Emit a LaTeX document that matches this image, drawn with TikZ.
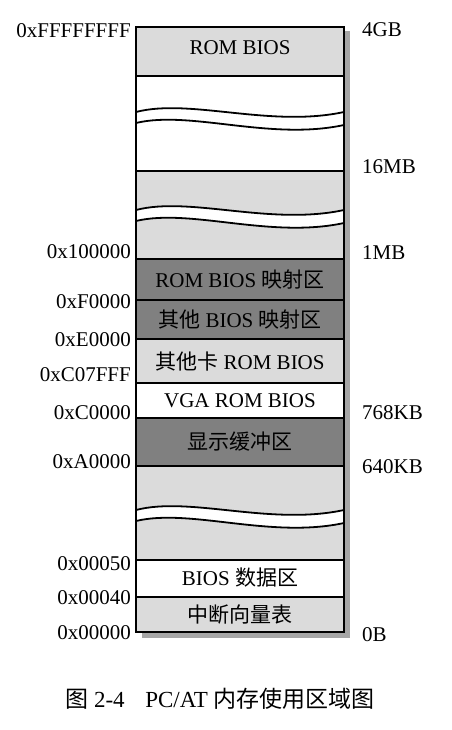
\documentclass[tikz,border=0pt]{standalone}
\usepackage{fontspec}
\setmainfont{Liberation Serif}
\newfontfamily\cjk{Noto Sans CJK SC}
\usetikzlibrary{calc}
\definecolor{memlight}{gray}{0.86}
\definecolor{memdark}{gray}{0.50}
\def\wavegap(#1){%
	\fill[white] (136,#1) .. controls (190,#1-14) and (270,#1+16) .. (344,#1) -- (344,#1+13) .. controls (270,#1+29) and (190,#1-2) .. (136,#1+11) -- cycle;
	\draw[line width=1.8pt] (136,#1) .. controls (190,#1-14) and (270,#1+16) .. (344,#1);
	\draw[line width=1.8pt] (136,#1+11) .. controls (190,#1-2) and (270,#1+29) .. (344,#1+13);}
\tikzset{
	addr/.style={anchor=east, inner sep=0pt, font=\fontsize{21}{24}\selectfont},
	msize/.style={anchor=west, inner sep=0pt, font=\fontsize{21}{24}\selectfont},
	region/.style={inner sep=0pt, font=\fontsize{21}{24}\selectfont},
}

\begin{document}
\begin{tikzpicture}[x=1pt, y=-1pt]
		%%%%% START %%%%%
		\useasboundingbox (0, 0) rectangle (451, 730);
		
		\fill[black!35] (142, 31) rectangle (350, 638);
		
		\fill[memlight] (136, 27) rectangle (344, 76);
		\fill[white] (136, 76) rectangle (344, 171);
		\fill[memlight] (136, 171) rectangle (344, 259);
		\fill[memdark] (136, 259) rectangle (344, 339);
		\fill[memlight] (136, 339) rectangle (344, 383);
		\fill[white] (136, 383) rectangle (344, 418);
		\fill[memdark] (136, 418) rectangle (344, 466);
		\fill[memlight] (136, 466) rectangle (344, 560);
		\fill[white] (136, 560) rectangle (344, 597);
		\fill[memlight] (136, 597) rectangle (344, 632);
		
		\wavegap(112)
		\wavegap(210)
		\wavegap(510)
		
		\foreach \y in {76, 171, 259, 300, 339, 383, 418, 466, 560, 597}
			\draw[line width=1.8pt] (136, \y) -- (344, \y);
		\draw[line width=2pt] (136, 27) rectangle (344, 632);
		
		\node[region] (rombios) at (240, 48) {ROM BIOS};
		\node[region] (rommap) at (240, 280) {ROM BIOS {\cjk 映射区}};
		\node[region] (othermap) at (240, 320) {{\cjk 其他} BIOS {\cjk 映射区}};
		\node[region] (cardrom) at (240, 362) {{\cjk 其他卡} ROM BIOS};
		\node[region] (vgarom) at (240, 401) {VGA ROM BIOS};
		\node[region] (vbuf) at (240, 442) {\cjk 显示缓冲区};
		\node[region] (biosdata) at (240, 578) {BIOS {\cjk 数据区}};
		\node[region] (ivt) at (240, 615) {\cjk 中断向量表};
		
		\node[addr] (aFFFFFFFF) at (131, 31) {0xFFFFFFFF};
		\node[addr] (a100000) at (131, 252) {0x100000};
		\node[addr] (aF0000) at (131, 302) {0xF0000};
		\node[addr] (aE0000) at (131, 340) {0xE0000};
		\node[addr] (aC07FFF) at (131, 375) {0xC07FFF};
		\node[addr] (aC0000) at (131, 413) {0xC0000};
		\node[addr] (aA0000) at (131, 462) {0xA0000};
		\node[addr] (a00050) at (131, 564) {0x00050};
		\node[addr] (a00040) at (131, 598) {0x00040};
		\node[addr] (a00000) at (131, 633) {0x00000};
		
		\node[msize] (s4GB) at (362, 30) {4GB};
		\node[msize] (s16MB) at (362, 167) {16MB};
		\node[msize] (s1MB) at (362, 253) {1MB};
		\node[msize] (s768KB) at (362, 413) {768KB};
		\node[msize] (s640KB) at (362, 467) {640KB};
		\node[msize] (s0B) at (362, 635) {0B};
		
		\node[inner sep=0pt, font=\fontsize{23}{26}\selectfont] (caption) at (220, 699) {{\cjk 图} 2-4\hspace{0.9em}PC/AT {\cjk 内存使用区域图}};
		%%%%% END %%%%%
	\end{tikzpicture}
\end{document}
